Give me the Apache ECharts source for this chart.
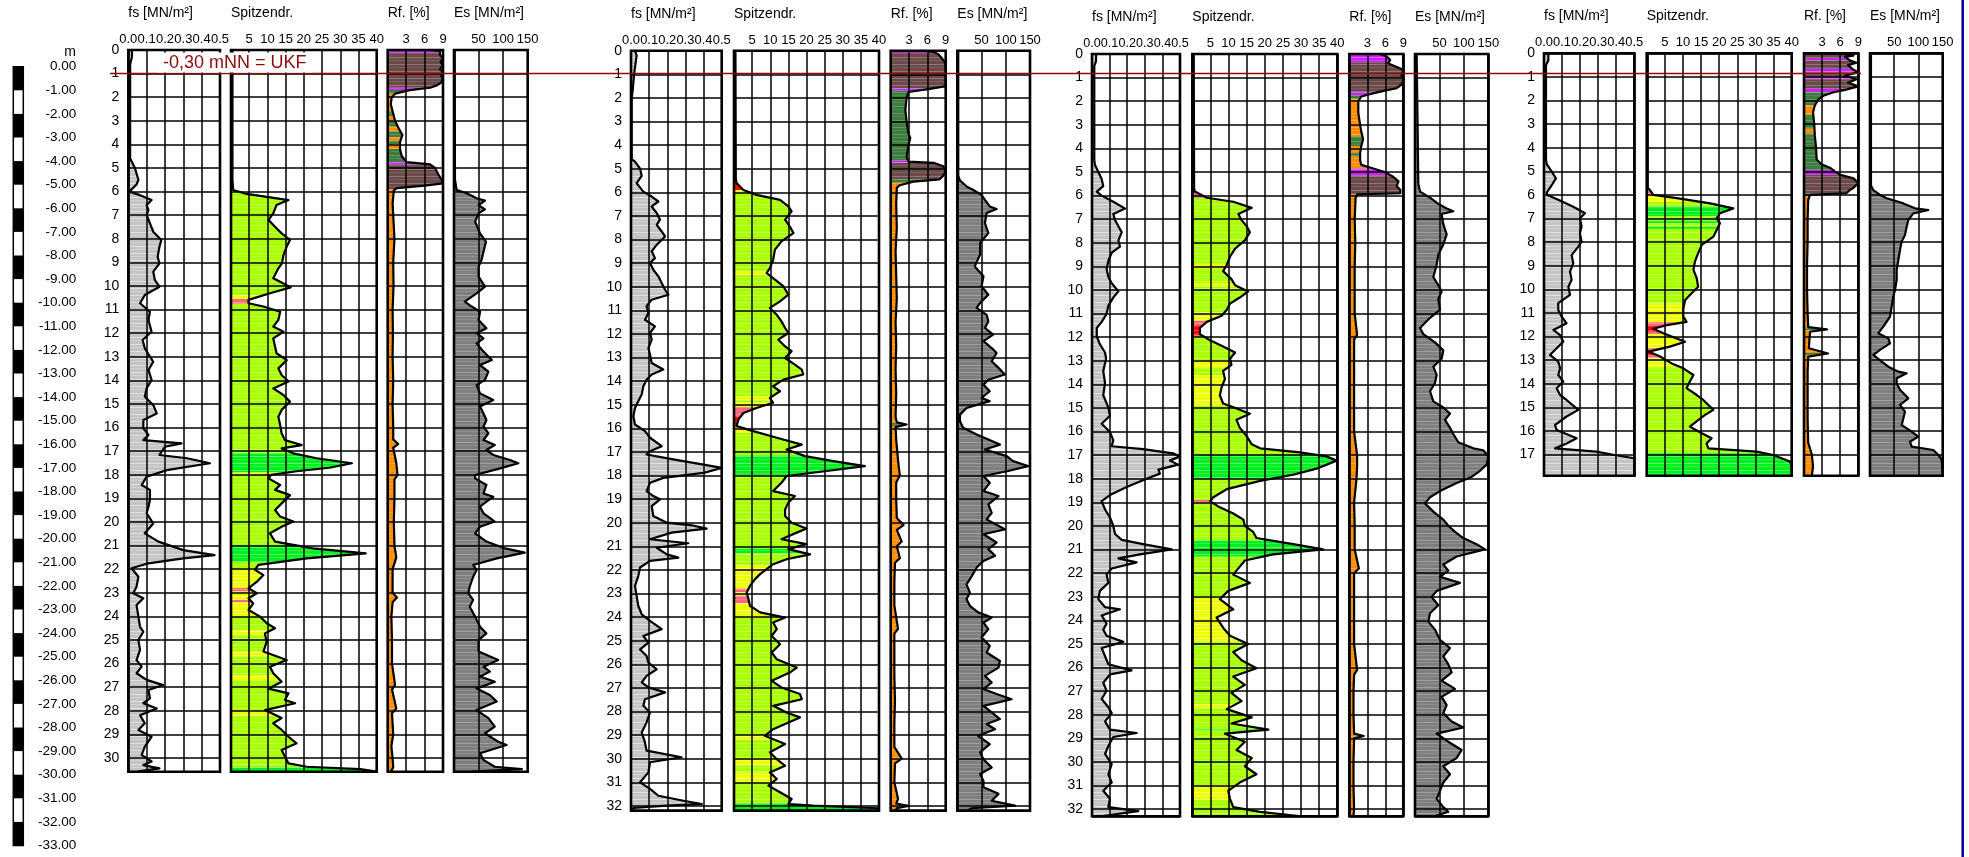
<!DOCTYPE html>
<html>
<head>
<meta charset="utf-8">
<script src="https://cdn.jsdelivr.net/npm/echarts@6/dist/echarts.min.js"></script>
<style>
  html, body { margin: 0; padding: 0; background: #fff; }
  #chart { width: 1969px; height: 857px; }
</style>
</head>
<body>
<div id="chart"></div>
<script>
// ---- data: [depth m, value] pairs ----
const depthEnd = [30.58, 32.2, 32.3, 17.9];

const fs1 = [[0,0.02],[0.3,0.02],[0.6,0.01],[4.6,0.01],[5.0,0.036],[5.5,0.055],[5.7,0.045],[6.0,0.005],[6.15,0.064],[6.36,0.127],[6.57,0.1],[6.78,0.11],[6.99,0.1],[7.35,0.118],[7.7,0.136],[8.05,0.18],[8.33,0.17],[8.76,0.16],[9.04,0.17],[9.39,0.136],[9.75,0.145],[10.03,0.17],[10.38,0.09],[10.73,0.064],[11.09,0.118],[11.44,0.11],[11.94,0.127],[12.29,0.078],[12.64,0.09],[13.21,0.136],[13.56,0.11],[13.98,0.127],[14.34,0.1],[14.69,0.09],[15.04,0.136],[15.4,0.155],[15.68,0.082],[16.03,0.082],[16.31,0.11],[16.53,0.082],[16.67,0.29],[16.81,0.2],[17.16,0.17],[17.3,0.32],[17.51,0.445],[17.8,0.21],[18.08,0.1],[18.43,0.073],[18.64,0.118],[19.07,0.118],[19.35,0.11],[19.63,0.1],[20.06,0.136],[20.48,0.09],[20.83,0.164],[21.19,0.3],[21.4,0.47],[21.54,0.3],[21.75,0.11],[21.96,0.018],[22.32,0.055],[22.74,0.045],[23.02,0.027],[23.23,0.082],[23.52,0.045],[24.01,0.055],[24.44,0.064],[24.65,0.082],[25.0,0.055],[25.42,0.064],[25.85,0.045],[26.13,0.073],[26.41,0.045],[26.69,0.1],[26.91,0.19],[27.12,0.11],[27.47,0.118],[27.68,0.082],[27.9,0.155],[28.19,0.064],[28.53,0.09],[28.81,0.055],[29.1,0.127],[29.52,0.09],[29.87,0.073],[30.15,0.127],[30.3,0.082],[30.44,0.17],[30.58,0.05]];
const qc1 = [[0,0.4],[5.5,0.4],[5.93,0.6],[6.1,4.3],[6.36,15.8],[6.57,12.5],[6.92,11.6],[7.2,10.3],[7.49,12.1],[7.77,13.9],[8.05,16.2],[8.33,15.3],[8.69,14.4],[9.04,14.0],[9.25,13.0],[9.67,11.6],[9.89,14.4],[10.06,16.4],[10.31,10.7],[10.59,4.8],[10.73,4.8],[10.87,8.9],[11.09,13.5],[11.44,13.0],[11.72,11.6],[11.94,14.4],[12.22,11.6],[12.57,12.1],[12.85,12.5],[13.14,15.3],[13.49,13.0],[13.77,13.9],[14.05,15.8],[14.34,11.6],[14.62,14.4],[14.9,16.2],[15.25,13.9],[15.54,13.0],[15.89,13.5],[16.24,13.9],[16.53,14.8],[16.74,19.4],[16.88,13.9],[17.09,17.1],[17.3,23.5],[17.51,33.2],[17.7,27.0],[17.85,18.0],[18.0,11.0],[18.15,10.3],[18.43,13.5],[18.64,12.1],[18.86,16.2],[19.21,13.9],[19.49,12.1],[19.77,13.5],[19.98,17.1],[20.2,13.9],[20.48,10.7],[20.83,12.1],[21.12,22.5],[21.33,37.0],[21.54,20.8],[21.82,7.5],[22.03,6.6],[22.25,8.9],[22.53,7.1],[22.81,4.8],[23.02,7.1],[23.23,4.8],[23.45,6.1],[23.73,4.8],[24.01,8.0],[24.29,9.8],[24.5,12.1],[24.72,9.3],[25.07,9.8],[25.49,8.9],[25.85,15.3],[26.13,10.7],[26.41,11.6],[26.77,13.9],[27.06,10.3],[27.26,15.8],[27.54,14.8],[27.68,17.6],[27.97,9.3],[28.31,13.9],[28.53,11.6],[28.81,13.9],[29.1,15.8],[29.38,18.0],[29.66,13.9],[29.94,14.8],[30.23,15.8],[30.37,20.8],[30.47,35.5],[30.58,40]];
const rf1 = [[0,6.9],[0.05,8.5],[0.2,8.5],[0.35,9],[0.5,8.6],[0.65,9],[0.8,8.5],[0.95,9],[1.1,8.7],[1.25,9],[1.4,8.6],[1.5,8],[1.6,6.9],[1.7,3.6],[1.85,1.2],[2.0,0.65],[2.3,0.5],[2.6,0.8],[3.0,1.2],[3.3,1.74],[3.6,2.4],[3.9,2.0],[4.2,2.0],[4.5,2.3],[4.75,3.1],[4.85,6.9],[5.0,7.7],[5.3,8.3],[5.5,8.8],[5.65,9],[5.75,6],[5.85,1.5],[5.95,1.0],[6.5,0.8],[7.5,1.0],[8.0,1.1],[9.0,0.9],[10.0,0.95],[11.0,0.8],[12.0,0.85],[13.0,0.8],[14.0,0.9],[15.0,0.8],[16.0,0.9],[16.5,0.9],[16.7,1.7],[16.85,0.9],[17.5,1.4],[18.0,1.6],[18.2,1.1],[19.0,1.1],[20.0,1.0],[21.0,1.1],[21.5,1.4],[22.0,0.8],[23.0,0.8],[23.2,1.5],[23.4,0.8],[24.0,0.6],[25.0,0.7],[26.0,0.7],[26.9,1.2],[27.1,0.7],[27.9,1.4],[28.1,0.7],[29.0,0.9],[29.5,0.6],[30.0,0.8],[30.4,0.9],[30.58,0.5]];
const es1 = [[0,1.5],[5.5,2],[5.93,5.4],[6.07,26],[6.28,46],[6.38,63],[6.57,50],[6.75,63],[6.92,50],[7.27,43],[7.77,53],[8.12,65],[8.55,60],[8.9,56],[9.18,50],[9.6,50],[10.03,63],[10.31,46],[10.66,22],[10.87,36],[11.09,53],[11.44,50],[11.79,66],[12.0,46],[12.22,60],[12.43,46],[12.78,60],[13.14,77],[13.35,53],[13.63,70],[13.98,63],[14.2,46],[14.55,53],[14.83,80],[15.11,53],[15.4,60],[15.68,66],[15.96,60],[16.24,70],[16.53,60],[16.74,83],[16.95,66],[17.16,80],[17.37,114],[17.51,131],[17.73,94],[18.01,43],[18.15,43],[18.43,66],[18.79,60],[18.93,80],[19.14,66],[19.35,53],[19.63,60],[19.98,83],[20.2,53],[20.48,43],[20.83,66],[21.12,104],[21.3,144],[21.54,87],[21.82,39],[22.03,46],[22.32,39],[22.74,32],[23.02,29],[23.3,39],[23.59,32],[24.01,43],[24.44,53],[24.72,66],[25.0,50],[25.49,50],[25.85,90],[26.13,60],[26.34,73],[26.55,53],[26.77,83],[27.06,46],[27.33,73],[27.61,87],[27.97,46],[28.31,70],[28.67,83],[28.95,63],[29.31,90],[29.45,107],[29.8,53],[30.08,60],[30.37,83],[30.47,138],[30.58,36]];
const qcLayers1 = [[0,5.5,'yg'],[5.5,5.95,'r'],[5.95,6.05,'y'],[6.05,10.4,'yg'],[10.4,10.55,'y'],[10.55,10.75,'p'],[10.75,17.1,'yg'],[17.1,17.9,'g'],[17.9,18.0,'y'],[18.0,21.0,'yg'],[21.0,21.7,'g'],[21.7,22.0,'yg'],[22.0,22.8,'y'],[22.8,22.95,'p'],[22.95,23.3,'y'],[23.3,23.4,'p'],[23.4,24.0,'y'],[24.0,24.6,'yg'],[24.6,24.8,'y'],[24.8,25.5,'yg'],[25.5,25.7,'y'],[25.7,26.5,'yg'],[26.5,26.7,'y'],[26.7,28.0,'yg'],[28.0,28.2,'y'],[28.2,30.4,'yg'],[30.4,30.58,'g']];
const rfLayers1 = [[0,0.12,'m'],[0.12,1.6,'b'],[1.6,1.7,'m'],[1.7,1.85,'gr'],[1.85,2.6,'o'],[2.6,2.8,'gr'],[2.8,3.0,'o'],[3.0,3.25,'gr'],[3.25,3.45,'o'],[3.45,3.7,'gr'],[3.7,3.85,'o'],[3.85,4.0,'gr'],[4.0,4.2,'o'],[4.2,4.75,'gr'],[4.75,4.85,'m'],[4.85,5.9,'b'],[5.9,30.58,'o']];

const fs2 = [[0,0.022],[0.2,0.031],[1.0,0.017],[1.7,0.009],[2.0,0.004],[4.6,0.004],[4.7,0.022],[5.0,0.05],[5.3,0.059],[5.61,0.031],[5.97,0.068],[6.18,0.114],[6.39,0.151],[6.6,0.114],[6.88,0.142],[7.16,0.16],[7.38,0.142],[7.66,0.169],[7.87,0.188],[8.22,0.142],[8.5,0.114],[8.79,0.132],[9.0,0.105],[9.28,0.123],[9.56,0.151],[9.84,0.169],[10.13,0.188],[10.34,0.206],[10.55,0.114],[10.83,0.086],[11.12,0.096],[11.4,0.077],[11.68,0.132],[11.96,0.105],[12.24,0.114],[12.6,0.096],[12.88,0.105],[13.23,0.114],[13.51,0.178],[13.72,0.114],[13.94,0.086],[14.22,0.068],[14.57,0.059],[14.85,0.04],[15.14,0.022],[15.49,0.013],[15.84,0.022],[16.12,0.077],[16.4,0.105],[16.76,0.169],[16.97,0.105],[17.11,0.086],[17.32,0.233],[17.54,0.4],[17.68,0.5],[17.89,0.4],[18.1,0.178],[18.31,0.105],[18.66,0.086],[18.87,0.123],[19.01,0.16],[19.3,0.114],[19.72,0.123],[20.0,0.197],[20.11,0.335],[20.25,0.417],[20.42,0.224],[20.7,0.105],[20.87,0.316],[21.06,0.142],[21.34,0.197],[21.48,0.261],[21.62,0.105],[21.9,0.05],[22.26,0.04],[22.68,0.022],[23.1,0.031],[23.52,0.04],[23.88,0.059],[24.16,0.105],[24.51,0.169],[24.8,0.068],[25.08,0.096],[25.37,0.05],[25.65,0.086],[25.93,0.096],[26.21,0.142],[26.49,0.086],[26.77,0.059],[26.98,0.096],[27.19,0.188],[27.48,0.077],[27.76,0.068],[28.04,0.105],[28.46,0.086],[28.89,0.059],[29.31,0.077],[29.66,0.086],[29.94,0.279],[30.15,0.105],[30.58,0.096],[31.0,0.05],[31.28,0.105],[31.57,0.151],[31.78,0.289],[31.92,0.39],[31.99,0.197],[32.09,0.013],[32.2,0.01]];
const qc2 = [[0,0.4],[5.4,0.5],[5.61,0.7],[5.9,2.6],[6.11,6.2],[6.32,12.7],[6.6,15.0],[6.81,15.9],[7.16,14.1],[7.45,15.4],[7.73,16.4],[8.08,13.1],[8.43,11.3],[8.86,10.8],[9.21,9.9],[9.42,9.0],[9.7,11.3],[9.98,13.6],[10.34,15.0],[10.62,12.7],[10.9,9.9],[11.19,11.8],[11.47,13.1],[11.75,14.1],[11.96,15.0],[12.24,12.2],[12.53,14.1],[12.73,15.9],[13.02,14.1],[13.3,16.8],[13.51,18.7],[13.72,19.1],[13.94,13.6],[14.22,10.8],[14.43,12.7],[14.71,9.9],[14.92,10.8],[15.14,6.2],[15.35,2.6],[15.63,1.2],[15.91,0.7],[16.12,5.3],[16.4,11.8],[16.69,18.7],[16.9,14.5],[17.18,19.6],[17.39,27.4],[17.6,36.1],[17.81,25.6],[18.02,14.5],[18.31,13.1],[18.66,10.8],[18.87,16.8],[19.15,15.0],[19.44,14.1],[19.72,14.1],[20.0,15.9],[20.25,20.0],[20.42,17.3],[20.7,13.1],[20.91,20.0],[21.12,15.0],[21.34,21.0],[21.55,14.5],[21.76,10.8],[21.97,9.0],[22.18,7.2],[22.39,5.8],[22.68,4.4],[22.96,3.5],[23.24,4.0],[23.52,4.4],[23.8,7.2],[24.02,14.1],[24.23,10.8],[24.51,11.8],[24.8,10.4],[25.15,12.7],[25.5,10.4],[25.79,11.8],[26.14,17.3],[26.35,15.4],[26.7,10.4],[26.98,13.1],[27.26,18.2],[27.48,18.7],[27.76,10.8],[28.04,14.5],[28.25,18.2],[28.53,14.1],[28.75,10.8],[29.03,8.5],[29.38,14.1],[29.73,9.9],[30.02,11.8],[30.3,14.1],[30.58,9.9],[30.86,11.8],[31.14,9.5],[31.42,12.7],[31.71,15.9],[31.92,15.0],[31.99,21.9],[32.1,39.8],[32.2,40]];
const rf2 = [[0,5.0],[0.05,7.0],[0.15,7.8],[0.3,8.3],[0.5,8.9],[0.7,9],[1.5,9],[1.55,8.9],[1.62,6.4],[1.75,2.9],[2.0,2.6],[2.5,2.4],[3.0,2.6],[3.5,2.9],[3.7,3.2],[4.0,2.9],[4.5,2.6],[4.7,2.9],[4.75,7.0],[4.9,8.6],[5.1,9],[5.3,8.6],[5.45,8.0],[5.55,3.7],[5.7,1.5],[5.8,1.0],[6.5,0.9],[7.5,1.0],[8.5,0.8],[9.5,0.9],[10.5,1.0],[11.5,0.8],[12.5,0.9],[13.5,0.8],[14.5,0.9],[15.5,0.8],[15.75,1.0],[15.84,2.6],[15.95,0.8],[16.5,0.9],[17.6,1.3],[18.0,1.5],[18.3,0.9],[19.0,0.9],[19.8,1.0],[20.1,2.1],[20.3,1.0],[20.8,1.8],[21.0,1.0],[21.5,1.5],[21.7,0.7],[22.5,0.6],[23.5,0.6],[24.5,1.2],[24.7,0.6],[25.5,0.6],[26.5,0.6],[27.5,0.7],[28.5,0.6],[29.5,0.6],[30.0,1.8],[30.2,0.7],[31.0,0.6],[31.7,1.2],[31.9,0.9],[32.0,2.9],[32.1,1.0],[32.2,0.8]];
const es2 = [[0,2],[5.3,2],[5.5,5.5],[5.75,19],[5.9,33],[6.11,50],[6.32,57],[6.6,67],[6.71,81],[6.88,60.5],[7.3,57],[7.73,64],[8.15,47],[8.64,47],[9.14,36],[9.56,54],[9.98,50],[10.34,64],[10.69,47],[10.9,40],[11.19,60.5],[11.47,64],[11.75,57],[12.03,74],[12.31,54],[12.6,71],[12.81,81],[13.16,71],[13.44,85],[13.72,98],[13.94,64],[14.15,54],[14.43,67],[14.71,50],[14.85,67],[15.14,19],[15.42,5.5],[15.7,5.5],[15.98,12],[16.26,40],[16.47,64],[16.69,88],[16.9,57],[17.18,102],[17.39,115],[17.6,146],[17.81,105],[18.02,54],[18.31,67],[18.66,54],[18.87,85],[19.22,64],[19.58,71],[19.86,60.5],[20.28,98],[20.49,54],[20.84,81],[21.12,64],[21.4,78],[21.62,54],[21.9,40],[22.26,30],[22.61,19],[22.96,26],[23.24,19],[23.52,26],[23.8,43],[24.02,71],[24.23,54],[24.51,64],[24.87,50],[25.22,67],[25.5,60.5],[25.86,88],[26.14,85],[26.49,57],[26.77,71],[27.05,54],[27.26,81],[27.48,112],[27.76,54],[28.04,71],[28.32,88],[28.53,60.5],[28.75,78],[29.03,43],[29.38,67],[29.73,47],[30.02,54],[30.37,71],[30.65,47],[30.94,54],[31.21,54],[31.49,85],[31.78,71],[31.99,119],[32.1,30],[32.2,20]];
const qcLayers2 = [[0,5.5,'yg'],[5.5,5.9,'r'],[5.9,6.0,'y'],[6.0,9.35,'yg'],[9.35,9.5,'y'],[9.5,14.65,'yg'],[14.65,14.8,'y'],[14.8,14.9,'yg'],[14.9,15.1,'y'],[15.1,15.5,'p'],[15.5,15.9,'r'],[15.9,16.2,'y'],[16.2,17.15,'yg'],[17.15,18.0,'g'],[18.0,21.1,'yg'],[21.1,21.3,'g'],[21.3,21.8,'yg'],[21.8,22.8,'y'],[22.8,22.95,'p'],[22.95,23.1,'y'],[23.1,23.4,'p'],[23.4,24.0,'y'],[24.0,29.0,'yg'],[29.0,29.2,'y'],[29.2,30.0,'yg'],[30.0,30.3,'y'],[30.3,30.6,'yg'],[30.6,31.0,'y'],[31.0,31.9,'yg'],[31.9,32.2,'g']];
const rfLayers2 = [[0,0.1,'m'],[0.1,1.6,'b'],[1.6,1.7,'m'],[1.7,4.65,'gr'],[4.65,4.75,'m'],[4.75,5.45,'b'],[5.45,5.6,'gr'],[5.6,15.78,'o'],[15.78,15.9,'gr'],[15.9,32.2,'o']];

const fs3 = [[0,0.023],[0.3,0.023],[0.5,0.013],[4.5,0.013],[4.7,0.017],[5.0,0.036],[5.3,0.055],[5.6,0.064],[5.83,0.027],[6.0,0.055],[6.26,0.121],[6.55,0.188],[6.78,0.121],[7.04,0.131],[7.3,0.15],[7.55,0.169],[7.9,0.15],[8.16,0.159],[8.42,0.112],[8.76,0.093],[9.11,0.083],[9.45,0.093],[9.71,0.112],[10.06,0.15],[10.32,0.121],[10.66,0.093],[11.01,0.083],[11.35,0.055],[11.61,0.027],[11.96,0.027],[12.3,0.045],[12.65,0.074],[12.91,0.08],[13.43,0.064],[13.94,0.074],[14.46,0.064],[14.98,0.093],[15.33,0.102],[15.67,0.055],[16.02,0.102],[16.36,0.121],[16.62,0.112],[16.74,0.29],[16.92,0.46],[17.05,0.5],[17.23,0.443],[17.4,0.49],[17.61,0.377],[17.78,0.386],[18.0,0.31],[18.35,0.197],[18.69,0.102],[18.95,0.055],[19.3,0.074],[19.64,0.102],[19.99,0.121],[20.34,0.131],[20.59,0.169],[20.77,0.29],[20.99,0.453],[21.2,0.273],[21.37,0.15],[21.54,0.254],[21.8,0.112],[22.06,0.083],[22.41,0.093],[22.75,0.045],[23.1,0.036],[23.44,0.074],[23.53,0.159],[23.79,0.055],[24.13,0.083],[24.39,0.064],[24.65,0.083],[24.91,0.178],[25.17,0.055],[25.52,0.074],[25.86,0.093],[26.12,0.225],[26.29,0.102],[26.64,0.064],[26.98,0.083],[27.33,0.055],[27.68,0.093],[27.93,0.112],[28.28,0.074],[28.63,0.102],[28.77,0.254],[28.94,0.121],[29.32,0.093],[29.66,0.074],[30.09,0.112],[30.52,0.093],[30.87,0.112],[31.22,0.064],[31.56,0.102],[31.91,0.093],[32.08,0.263],[32.3,0.05]];
const qc3 = [[0,0.4],[5.7,0.5],[5.83,0.7],[6.09,4.0],[6.26,11.3],[6.52,16.4],[6.78,12.7],[7.04,13.6],[7.3,15.0],[7.55,15.9],[7.9,14.5],[8.25,11.8],[8.59,10.4],[8.94,9.5],[9.2,8.5],[9.54,10.8],[9.8,11.8],[10.06,15.4],[10.32,13.1],[10.58,10.4],[10.84,9.5],[11.09,8.1],[11.35,4.0],[11.61,2.1],[11.87,2.1],[12.13,4.9],[12.39,8.5],[12.65,11.8],[12.91,10.4],[13.17,10.8],[13.43,8.5],[13.77,9.0],[14.12,8.1],[14.46,7.6],[14.81,8.5],[15.07,13.1],[15.24,15.9],[15.5,12.2],[15.84,13.1],[16.19,15.0],[16.54,16.4],[16.71,18.7],[16.88,29.7],[17.05,37.0],[17.23,39.8],[17.57,34.3],[17.83,27.8],[18.09,18.7],[18.44,9.5],[18.78,5.8],[18.95,4.9],[19.21,7.6],[19.47,11.3],[19.73,14.1],[19.99,14.5],[20.25,16.8],[20.51,17.7],[20.77,27.8],[20.99,36.1],[21.2,22.3],[21.46,14.5],[21.72,13.1],[22.06,11.3],[22.41,15.9],[22.75,9.9],[23.1,7.6],[23.53,11.3],[23.88,6.7],[24.31,8.5],[24.65,10.4],[25.0,15.4],[25.34,11.3],[25.69,13.6],[26.03,17.7],[26.38,11.3],[26.73,14.5],[27.07,10.8],[27.42,13.6],[27.76,9.5],[28.11,16.4],[28.37,10.8],[28.63,21.0],[28.8,9.0],[29.14,14.5],[29.49,12.2],[29.83,16.4],[30.18,14.5],[30.52,17.7],[30.87,13.1],[31.22,9.9],[31.56,10.4],[31.91,11.3],[32.11,18.7],[32.3,30]];
const rf3 = [[0,5.1],[0.1,6.2],[0.25,6.8],[0.4,6.5],[0.6,8.4],[0.7,9],[0.9,8.7],[1.1,9],[1.3,8.7],[1.45,7.9],[1.55,5.9],[1.7,3.4],[1.8,2.0],[2.0,1.5],[2.5,1.5],[3.0,1.8],[3.3,2.0],[3.6,2.3],[3.9,2.0],[4.2,1.8],[4.5,1.8],[4.7,2.0],[4.85,4.0],[5.0,5.9],[5.2,7.3],[5.4,8.2],[5.6,7.9],[5.75,8.5],[5.9,8.5],[5.95,1.3],[6.09,1.05],[7.0,0.9],[8.0,1.0],[9.0,0.9],[10.0,0.9],[11.0,0.9],[11.9,1.3],[12.1,0.8],[13.0,0.8],[14.0,0.8],[15.0,0.8],[16.0,0.8],[17.0,1.3],[17.5,1.3],[18.0,1.2],[19.0,0.8],[20.0,0.9],[21.0,0.9],[21.8,1.6],[22.0,0.8],[23.0,0.8],[24.0,0.8],[25.0,0.8],[26.1,1.3],[26.3,0.8],[27.0,0.7],[28.0,0.7],[28.8,0.8],[28.9,2.4],[29.0,0.8],[30.0,0.7],[31.0,0.7],[32.0,0.8],[32.3,0.7]];
const es3 = [[0,3.4],[5.5,6.8],[5.83,10.2],[6.09,30.7],[6.35,47.7],[6.55,64.8],[6.66,78.4],[6.78,54.5],[7.21,57.9],[7.64,64.8],[8.07,57.9],[8.5,47.7],[8.94,44.3],[9.45,37.5],[9.8,47.7],[10.06,54.5],[10.4,47.7],[10.84,51.1],[11.18,30.7],[11.61,10.2],[11.87,17.0],[12.22,40.9],[12.56,57.9],[12.91,54.5],[13.25,37.5],[13.6,44.3],[13.94,40.9],[14.29,30.7],[14.72,37.5],[14.98,57.9],[15.24,71.6],[15.5,61.4],[15.84,71.6],[16.1,78.4],[16.45,88.6],[16.71,119.3],[16.79,139.7],[17.05,150],[17.4,146.6],[17.66,132.9],[17.92,115.9],[18.18,85.2],[18.52,51.1],[18.78,30.7],[19.04,20.4],[19.39,37.5],[19.73,57.9],[19.99,68.2],[20.25,81.8],[20.51,98.8],[20.77,126.1],[20.99,143.2],[21.29,85.2],[21.63,57.9],[21.89,68.2],[22.15,51.1],[22.41,92],[22.75,44.3],[23.01,34.1],[23.36,47.7],[23.7,30.7],[24.05,27.3],[24.39,40.9],[24.82,51.1],[25.17,71.6],[25.52,57.9],[25.86,68.2],[26.2,75],[26.55,54.5],[26.9,81.8],[27.24,54.5],[27.59,64.8],[27.93,57.9],[28.28,75],[28.54,98.8],[28.8,44.3],[29.14,68.2],[29.49,95.4],[29.83,85.2],[30.18,57.9],[30.52,71.6],[30.87,57.9],[31.22,51.1],[31.56,44.3],[31.91,57.9],[32.11,68.2],[32.3,40]];
const qcLayers3 = [[0,5.8,'yg'],[5.8,6.1,'p'],[6.1,8.9,'yg'],[8.9,9.1,'y'],[9.1,9.7,'yg'],[9.7,9.85,'y'],[9.85,10.95,'yg'],[10.95,11.3,'y'],[11.3,11.5,'p'],[11.5,11.9,'r'],[11.9,12.0,'p'],[12.0,13.0,'yg'],[13.0,13.3,'y'],[13.3,13.6,'yg'],[13.6,14.9,'y'],[14.9,17.0,'yg'],[17.0,18.0,'g'],[18.0,18.9,'yg'],[18.9,19.0,'p'],[19.0,20.6,'yg'],[20.6,21.3,'g'],[21.3,23.0,'yg'],[23.0,24.9,'y'],[24.9,27.55,'yg'],[27.55,27.7,'y'],[27.7,28.6,'yg'],[28.6,28.66,'g'],[28.66,31.0,'yg'],[31.0,31.6,'y'],[31.6,32.3,'yg']];
const rfLayers3 = [[0,0.35,'m'],[0.35,1.6,'b'],[1.6,1.75,'m'],[1.75,1.9,'gr'],[1.9,3.5,'o'],[3.5,3.9,'gr'],[3.9,4.2,'o'],[4.2,4.35,'gr'],[4.35,4.85,'o'],[4.85,5.15,'m'],[5.15,5.95,'b'],[5.95,32.3,'o']];

const fs4 = [[0,0.024],[0.3,0.024],[0.5,0.011],[4.5,0.011],[4.7,0.015],[5.0,0.042],[5.3,0.066],[5.6,0.042],[5.9,0.015],[6.0,0.018],[6.21,0.079],[6.5,0.162],[6.78,0.227],[6.99,0.199],[7.34,0.208],[7.63,0.199],[7.98,0.208],[8.19,0.19],[8.55,0.153],[8.9,0.162],[9.25,0.144],[9.6,0.153],[9.89,0.135],[10.24,0.144],[10.59,0.079],[10.88,0.079],[11.16,0.098],[11.44,0.125],[11.72,0.052],[11.94,0.089],[12.22,0.107],[12.5,0.07],[12.78,0.033],[13.06,0.079],[13.35,0.089],[13.63,0.079],[13.91,0.107],[14.19,0.07],[14.48,0.089],[14.69,0.125],[15.11,0.19],[15.39,0.125],[15.75,0.061],[15.96,0.07],[16.31,0.181],[16.53,0.125],[16.74,0.061],[16.88,0.29],[17.02,0.39],[17.16,0.5],[17.9,0.5]];
const qc4 = [[0,0.3],[5.7,0.3],[5.9,1.4],[6.0,1.8],[6.14,8.3],[6.36,17.5],[6.57,23.9],[6.78,20.2],[6.99,19.3],[7.2,20.2],[7.49,19.3],[7.77,18.4],[8.12,15.2],[8.47,14.2],[8.83,13.3],[9.18,12.9],[9.53,13.8],[9.89,14.2],[10.17,12.4],[10.45,10.6],[10.81,10.1],[11.16,10.1],[11.38,11.0],[11.52,5.5],[11.67,1.8],[11.86,4.6],[12.03,7.4],[12.22,10.6],[12.43,6.4],[12.64,0.5],[12.85,3.7],[13.14,6.9],[13.35,10.1],[13.63,12.9],[13.91,11.9],[14.19,11.0],[14.48,13.8],[14.69,15.6],[15.11,18.4],[15.32,16.1],[15.54,14.2],[15.82,11.9],[16.1,15.2],[16.31,17.9],[16.53,16.5],[16.74,17.0],[16.88,30.3],[17.02,34.9],[17.3,39.5],[17.45,40],[17.9,40]];
const rf4 = [[0,6.0],[0.1,8.2],[0.15,6.8],[0.3,7.6],[0.4,8.7],[0.5,7.3],[0.7,8.2],[0.8,9],[0.95,6.8],[1.1,8.7],[1.25,7.3],[1.4,9],[1.55,6.8],[1.65,4.9],[1.8,3.2],[1.95,2.4],[2.2,1.8],[2.5,1.5],[3.0,1.7],[3.5,1.8],[4.0,2.0],[4.5,2.1],[4.7,2.9],[4.85,4.3],[5.0,5.1],[5.15,6.0],[5.3,8.2],[5.5,9],[5.7,8.2],[5.8,7.6],[5.93,7.0],[6.0,1.0],[6.21,0.7],[7.0,0.6],[8.0,0.6],[9.0,0.5],[10.0,0.5],[11.0,0.6],[11.6,0.7],[11.7,3.8],[11.8,1.0],[12.5,0.8],[12.72,4.0],[12.85,0.7],[13.5,0.6],[14.5,0.6],[15.5,0.6],[16.5,0.7],[17.0,1.3],[17.5,1.5],[17.9,1.3]];
const es4 = [[0,2],[5.6,2],[5.8,6.9],[6.0,20.6],[6.14,34.4],[6.36,68.8],[6.57,92.8],[6.64,120.4],[6.78,89.4],[7.06,79.1],[7.34,75.7],[7.7,72.2],[7.98,65.3],[8.33,61.9],[8.76,58.5],[9.18,55],[9.6,55],[10.03,51.6],[10.31,48.1],[10.73,44.7],[11.16,41.3],[11.58,27.5],[11.86,17.2],[12.08,37.8],[12.29,41.3],[12.57,20.6],[12.78,6.9],[13.06,24.1],[13.28,37.8],[13.49,58.5],[13.56,75.7],[13.77,55],[13.98,55],[14.26,61.9],[14.62,79.1],[14.9,61.9],[15.18,72.2],[15.47,68.8],[15.75,65.3],[16.03,86],[16.24,99.7],[16.46,82.5],[16.67,86],[16.81,130.7],[17.02,141],[17.23,147.9],[17.9,150]];
const qcLayers4 = [[0,5.8,'yg'],[5.8,6.0,'p'],[6.0,6.3,'y'],[6.3,6.5,'yg'],[6.5,6.9,'g'],[6.9,7.1,'yg'],[7.1,7.2,'g'],[7.2,7.35,'yg'],[7.35,7.45,'g'],[7.45,10.6,'yg'],[10.6,11.4,'y'],[11.4,11.55,'p'],[11.55,11.8,'r'],[11.8,11.9,'p'],[11.9,12.5,'y'],[12.5,12.65,'p'],[12.65,12.8,'r'],[12.8,12.9,'p'],[12.9,13.3,'y'],[13.3,16.95,'yg'],[16.95,17.9,'g']];
const rfLayers4 = [[0,0.2,'b'],[0.2,0.3,'m'],[0.3,0.65,'b'],[0.65,0.8,'m'],[0.8,1.0,'b'],[1.0,1.1,'m'],[1.1,1.5,'b'],[1.5,1.65,'m'],[1.65,2.2,'gr'],[2.2,2.6,'o'],[2.6,3.2,'gr'],[3.2,3.4,'o'],[3.4,4.95,'gr'],[4.95,5.15,'m'],[5.15,5.95,'b'],[5.95,6.05,'gr'],[6.05,11.65,'o'],[11.65,11.75,'gr'],[11.75,12.7,'o'],[12.7,12.8,'gr'],[12.8,17.9,'o']];

// elevation scale (mNN): tops of the black 1 m blocks
const scaleBlackTops = [0,-2,-4,-6,-8,-10,-12,-14,-16,-18,-20,-22,-24,-26,-28,-30,-32];
const ukfDepth = 1;          // depth of -0,30 mNN in sounding 1
const ukfLabel = '-0,30 mNN = UKF';

// ---- layout ----
const PX_PER_M = 23.6;
const FONT = "'Liberation Sans', Arial, sans-serif";
const soundingTop = [50, 50.7, 54, 53.3];
const panelX = [
  [[128.3, 220], [231, 376.7], [387.7, 443], [454, 527.7]],
  [[631, 721.7], [734, 879], [890.7, 945.7], [957.3, 1030]],
  [[1092, 1180], [1192.3, 1337.3], [1349.3, 1403.3], [1415, 1488.3]],
  [[1544, 1634.3], [1646.7, 1791.7], [1804, 1858.3], [1870, 1942.7]]
];

function stripes(base, light) {
  const c = document.createElement('canvas');
  c.width = 8; c.height = 7;
  const g = c.getContext('2d');
  g.fillStyle = base; g.fillRect(0, 0, 8, 7);
  g.fillStyle = light; g.globalAlpha = 0.8; g.fillRect(0, 1, 8, 1);
  g.globalAlpha = 0.4; g.fillRect(0, 4, 8, 1);
  return { image: c, repeat: 'repeat' };
}

const palette = {
  fs: stripes('#c4c4c4', '#e8e8e8'),
  es: stripes('#7f7f7f', '#a8a8a8'),
  yg: stripes('#aaff00', '#ccff66'),
  g: stripes('#00ee22', '#66ff77'),
  y: stripes('#eeff00', '#f8ff88'),
  p: stripes('#ff6680', '#ff9aaa'),
  r: stripes('#ff0000', '#ff5555'),
  b: stripes('#6b4a4a', '#9c8080'),
  m: stripes('#cc22ff', '#dd77ff'),
  gr: stripes('#3d7d3d', '#6a9f6a'),
  o: stripes('#ff8c00', '#ffb04d')
};

const panels = [
  { title: 'fs [MN/m²]', max: 0.5, interval: 0.1, fmt: v => v.toFixed(1) },
  { title: 'Spitzendr.', max: 40, interval: 5, fmt: v => v ? String(v) : '' },
  { title: 'Rf. [%]', max: 9, interval: 3, fmt: v => v ? String(v) : '' },
  { title: 'Es [MN/m²]', max: 150, interval: 50, fmt: v => v ? String(v) : '' }
];

const profiles = [
  [fs1, qc1, rf1, es1], [fs2, qc2, rf2, es2], [fs3, qc3, rf3, es3], [fs4, qc4, rf4, es4]
];
const qcLayers = [qcLayers1, qcLayers2, qcLayers3, qcLayers4];
const rfLayers = [rfLayers1, rfLayers2, rfLayers3, rfLayers4];

function valueAt(profile, d) {
  for (let i = 1; i < profile.length; i++) {
    const [d0, v0] = profile[i - 1], [d1, v1] = profile[i];
    if (d <= d1) return d1 === d0 ? v1 : v0 + (v1 - v0) * (d - d0) / (d1 - d0);
  }
  return profile[profile.length - 1][1];
}

function fillRenderer(profile, layers, max) {
  const clamp = v => Math.max(0, Math.min(max, v));
  return function (params, api) {
    const [top, bottom, key] = layers[params.dataIndex];
    const pts = [api.coord([0, top]), api.coord([clamp(valueAt(profile, top)), top])];
    profile.forEach(([d, v]) => {
      if (d > top && d < bottom) pts.push(api.coord([clamp(v), d]));
    });
    pts.push(api.coord([clamp(valueAt(profile, bottom)), bottom]));
    pts.push(api.coord([0, bottom]));
    return { type: 'polygon', shape: { points: pts }, style: { fill: palette[key], stroke: null } };
  };
}

const grid = [], xAxis = [], yAxis = [], series = [], title = [];

profiles.forEach((set, s) => {
  const depth = depthEnd[s];
  set.forEach((profile, k) => {
    const idx = grid.length;
    const [x0, x1] = panelX[s][k];
    const cfg = panels[k];
    // the fs labels touch each other; shrink a hair where the panel is narrower
    const step = (x1 - x0) * cfg.interval / cfg.max;
    const tickFont = k === 0 ? Math.min(13, 13 * step / 18.2) : 13;
    grid.push({
      left: x0, top: soundingTop[s], width: x1 - x0, height: depth * PX_PER_M,
      show: true, borderColor: '#000', borderWidth: 2.6, backgroundColor: 'transparent',
      containLabel: false, outerBoundsMode: 'none', z: 5
    });
    xAxis.push({
      gridIndex: idx, type: 'value', position: 'top', min: 0, max: cfg.max, interval: cfg.interval,
      axisLine: { show: false }, axisTick: { show: false },
      splitLine: { show: true, lineStyle: { color: '#000', width: 1.5 } },
      axisLabel: {
        formatter: cfg.fmt, fontSize: tickFont, color: '#000', fontFamily: FONT, margin: 4,
        hideOverlap: false, showMinLabel: true, showMaxLabel: true
      },
      z: 4
    });
    yAxis.push({
      gridIndex: idx, type: 'value', inverse: true, min: 0, max: depth, interval: 1,
      axisLine: { show: false }, axisTick: { show: false },
      splitLine: { show: true, lineStyle: { color: '#000', width: 1.5 } },
      axisLabel: {
        show: k === 0, fontSize: 14, color: '#000', fontFamily: FONT, margin: 9,
        showMinLabel: true, showMaxLabel: false, hideOverlap: false, padding: [3, 0, 0, 0]
      },
      z: 4
    });
    let layers;
    if (k === 1) layers = qcLayers[s];
    else if (k === 2) layers = rfLayers[s];
    else layers = [[0, depth, k === 0 ? 'fs' : 'es']];
    series.push({
      type: 'custom', xAxisIndex: idx, yAxisIndex: idx, silent: true, z: 1,
      data: layers.map((l, i) => [l[0], l[1], i]),
      renderItem: fillRenderer(profile, layers, cfg.max)
    });
    series.push({
      type: 'line', xAxisIndex: idx, yAxisIndex: idx, silent: true, z: 6,
      data: profile.map(([d, v]) => [v, d]),
      symbol: 'none', showSymbol: false,
      lineStyle: { color: '#000', width: 2.2, join: 'round' }
    });
    title.push({
      text: cfg.title, left: x0, top: soundingTop[s] - 44, padding: 0,
      textStyle: { fontSize: 14, fontWeight: 'normal', color: '#000', fontFamily: FONT }
    });
  });
});

// elevation scale bar
const scaleIdx = grid.length;
grid.push({
  left: 13.3, top: 66.7, width: 10, height: 33 * PX_PER_M,
  show: true, borderColor: '#000', borderWidth: 1.5, backgroundColor: '#fff',
  containLabel: false, outerBoundsMode: 'none'
});
xAxis.push({ gridIndex: scaleIdx, type: 'value', min: 0, max: 1, show: false });
yAxis.push({
  gridIndex: scaleIdx, type: 'value', min: -33, max: 0, interval: 1, position: 'right',
  axisLine: { show: false }, axisTick: { show: false }, splitLine: { show: false },
  axisLabel: {
    formatter: v => v.toFixed(2), align: 'right', margin: 53, fontSize: 13.5, color: '#000',
    fontFamily: FONT, hideOverlap: false, showMinLabel: true, showMaxLabel: true, padding: [6, 0, 0, 0]
  }
});
series.push({
  type: 'custom', xAxisIndex: scaleIdx, yAxisIndex: scaleIdx, silent: true,
  data: scaleBlackTops.map(t => [0, t]),
  renderItem: (params, api) => {
    const top = api.value(1);
    const p0 = api.coord([0, top]), p1 = api.coord([1, top - 1]);
    return { type: 'rect', shape: { x: p0[0], y: p0[1], width: p1[0] - p0[0], height: p1[1] - p0[1] }, style: { fill: '#000' } };
  }
});

const chart = echarts.init(document.getElementById('chart'), null, { renderer: 'canvas' });
chart.setOption({
  animation: false,
  backgroundColor: '#fff',
  textStyle: { fontFamily: FONT },
  title, grid, xAxis, yAxis, series
});

// UKF reference line, placed through sounding 1's depth axis
const ukfY = chart.convertToPixel({ yAxisIndex: 0 }, ukfDepth);
chart.setOption({
  graphic: [
    { type: 'line', z: 20, shape: { x1: 110, y1: ukfY, x2: 1861, y2: ukfY }, style: { stroke: '#8b0a0a', lineWidth: 1.5 } },
    { type: 'rect', z: 21, shape: { x: 157, y: ukfY - 21, width: 155, height: 20 }, style: { fill: '#fff' } },
    { type: 'text', z: 22, x: 163, y: ukfY - 11, style: { text: ukfLabel, fill: '#8b0a0a', fontSize: 18, fontFamily: FONT, verticalAlign: 'middle' } },
    { type: 'text', z: 22, x: 76, y: 52, style: { text: 'm', fill: '#000', fontSize: 14, fontFamily: FONT, align: 'right', verticalAlign: 'middle' } },
    { type: 'line', z: 22, shape: { x1: 1962.7, y1: 0, x2: 1962.7, y2: 857 }, style: { stroke: '#000099', lineWidth: 2.5 } }
  ]
});
</script>
</body>
</html>
